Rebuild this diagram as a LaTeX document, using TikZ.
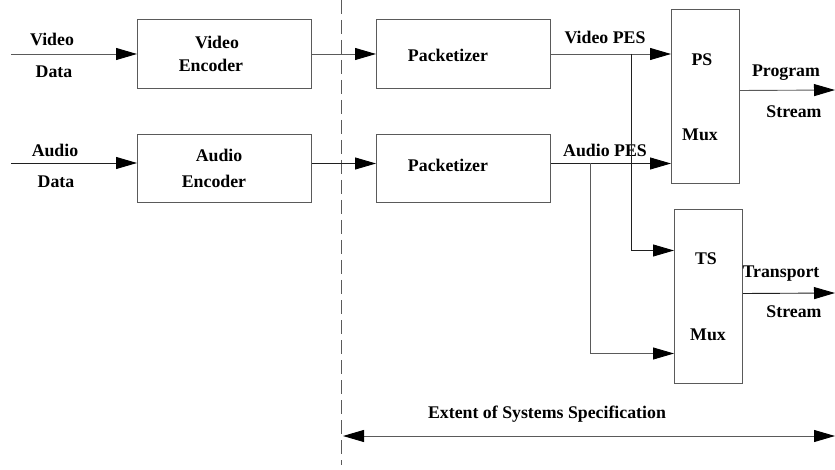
\documentclass[tikz,border=0pt]{standalone}
\usepackage{fontspec}
\setmainfont{Liberation Serif}
\usetikzlibrary{arrows.meta}
\definecolor{lgray}{HTML}{5A5A5A}
\definecolor{dgray}{HTML}{202020}
\tikzset{
  box/.style={draw=lgray, line width=1pt, anchor=north west, inner sep=0pt},
  lbl/.style={anchor=base, inner sep=0pt, font=\fontsize{17.8}{20}\selectfont\bfseries},
  arr/.style={line width=0.9pt, -{Triangle[length=21pt,width=12pt,color=black,fill=black]}},
  arrboth/.style={line width=0.9pt, {Triangle[length=21pt,width=12pt,color=black,fill=black]}-{Triangle[length=21pt,width=12pt,color=black,fill=black]}},
}
\begin{document}
\begin{tikzpicture}[x=1pt,y=-1pt]
\useasboundingbox (0,0) rectangle (835,470);
% boxes
\node[box, minimum width=174pt, minimum height=69pt] (venc) at (137,19) {};
\node[box, minimum width=174pt, minimum height=68pt] (aenc) at (137,134) {};
\node[box, minimum width=174pt, minimum height=69pt] (vpk) at (376,19) {};
\node[box, minimum width=174pt, minimum height=68pt] (apk) at (376,134) {};
\node[box, minimum width=68pt, minimum height=174pt] (psmux) at (671,9) {};
\node[box, minimum width=68pt, minimum height=174pt] (tsmux) at (674,209) {};
% labels
\node[lbl] (l1) at (52,45.5) {Video};
\node[lbl] (l2) at (54,77.5) {Data};
\node[lbl] (l3) at (55,156.5) {Audio};
\node[lbl] (l4) at (56,187.5) {Data};
\node[lbl] (l5) at (217,48.5) {Video};
\node[lbl] (l6) at (211,71.5) {Encoder};
\node[lbl] (l7) at (219,161.5) {Audio};
\node[lbl] (l8) at (214,187.5) {Encoder};
\node[lbl] (l9) at (448,62) {Packetizer};
\node[lbl] (l10) at (448,172) {Packetizer};
\node[lbl] (l11) at (605,43.5) {Video PES};
\node[lbl] (l12) at (605,156.5) {Audio PES};
\node[lbl] (l13) at (702,65.5) {PS};
\node[lbl] (l14) at (700,140.5) {Mux};
\node[lbl] (l15) at (786,77) {Program};
\node[lbl] (l16) at (794,117.5) {Stream};
\node[lbl] (l17) at (706,264.5) {TS};
\node[lbl] (l18) at (708,340.5) {Mux};
\node[lbl] (l19) at (781,278) {Transport};
\node[lbl] (l20) at (794,317.5) {Stream};
\node[lbl] (l21) at (547,418) {Extent of Systems Specification};
% coordinates
\coordinate (vin) at (11,54);
\coordinate (ain) at (11,163);
\coordinate (vj) at (631,54);
\coordinate (aj) at (590,163);
\coordinate (psout) at (835,90);
\coordinate (tsout) at (835,293);
\coordinate (extl) at (343,436);
\coordinate (extr) at (835,436);
\coordinate (dtop) at (341,0);
\coordinate (dbot) at (341,465);
% dashed boundary
\draw[lgray, line width=1pt, dash pattern=on 14pt off 6pt] (dtop) -- (dbot);
% connectors
\draw[arr, lgray] (vin) -- (venc.west);
\draw[arr, dgray] (ain) -- (ain -| aenc.west);
\draw[arr, lgray] (venc.east) -- (vpk.west);
\draw[arr, dgray] ([yshift=5pt]aenc.east) -- ([yshift=5pt]apk.west);
\draw[arr, lgray] (vpk.east) -- (vpk.east -| psmux.west);
\draw[arr, dgray] ([yshift=5pt]apk.east) -- ([yshift=5pt]apk.east -| psmux.west);
\draw[arr, dgray] (vj) |- ([yshift=46pt]tsmux.west);
\draw[arr, lgray] (aj) |- ([yshift=-57pt]tsmux.west);
\draw[arr, lgray] ([yshift=6pt]psmux.east) -- (psout);
\draw[arr, dgray] ([yshift=3pt]tsmux.east) -- (tsout);
\draw[arrboth, lgray] (extl) -- (extr);
\end{tikzpicture}
\end{document}
